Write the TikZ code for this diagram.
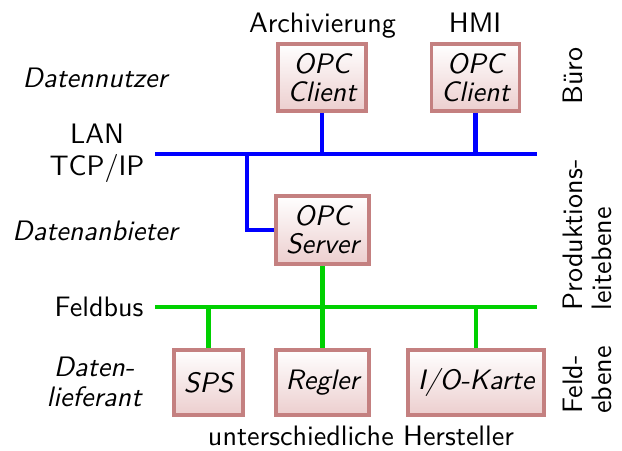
\documentclass[tikz,border=0pt]{standalone}
\usepackage{fontspec}
\setsansfont{lmsans10-regular.otf}[
  BoldFont=lmsans10-bold.otf,
  ItalicFont=lmsans10-oblique.otf,
  SlantedFont=lmsans10-oblique.otf]
\usepackage{xcolor}
\usepackage{tikz}
\usetikzlibrary{positioning,calc}

\definecolor{boxrand}{RGB}{196,128,128}
\definecolor{boxgrund}{RGB}{236,206,206}
\definecolor{feldgruen}{RGB}{0,208,0}

\begin{document}
\begin{tikzpicture}[
    x=0.02cm, y=-0.02cm,
    font=\sffamily\fontsize{16}{18}\selectfont,
    geraet/.style={draw=boxrand, line width=2.2pt, top color=white, bottom color=boxgrund,
      inner sep=0pt, align=center, font=\sffamily\slshape\fontsize{16}{16}\selectfont},
    beschr/.style={inner sep=0pt, align=center},
    ebene/.style={inner sep=0pt, align=left, rotate=90, font=\sffamily\fontsize{16}{16.5}\selectfont},
    lan/.style={blue, line width=2.3pt},
    feldbus/.style={feldgruen, line width=2.3pt},
  ]
  \useasboundingbox (0,0) rectangle (622,450);

  % Buero: OPC Clients
  \node[geraet, minimum width=1.76cm, minimum height=1.34cm] (client1) at (322,77.5) {OPC\\Client};
  \node[geraet, minimum width=1.76cm, minimum height=1.34cm] (client2) at (475.5,77.5) {OPC\\Client};
  \node[beschr, anchor=base] (archiv) at (322.5,32) {Archivierung};
  \node[beschr, anchor=base] (hmi) at (475,32) {HMI};

  % Produktionsleitebene: OPC Server
  \node[geraet, minimum width=1.86cm, minimum height=1.36cm] (server) at (322.5,230) {OPC\\Server};

  % Feldebene: Geraete
  \node[geraet, minimum width=1.38cm, minimum height=1.30cm] (sps) at (208.5,382.5) {SPS};
  \node[geraet, minimum width=1.86cm, minimum height=1.30cm] (regler) at (322.5,382.5) {Regler};
  \node[geraet, minimum width=2.72cm, minimum height=1.30cm] (iokarte) at (476,382.5) {I/O-Karte};
  \node[beschr, anchor=base] (hersteller) at (361,445) {unterschiedliche Hersteller};

  % Beschriftung links
  \node[beschr, anchor=base, font=\sffamily\slshape\fontsize{16}{18}\selectfont] (nutzer) at (95,87) {Datennutzer};
  \node[beschr] (lan) at (97,153.5) {LAN\\TCP/IP};
  \node[beschr, anchor=base, font=\sffamily\slshape\fontsize{16}{18}\selectfont] (anbieter) at (95,240) {Datenanbieter};
  \node[beschr, anchor=base] (feldbus) at (99,316) {Feldbus};
  \node[beschr, font=\sffamily\slshape\fontsize{16}{17}\selectfont] (lieferant) at (94,382) {Daten-\\lieferant};

  % Ebenen rechts
  \node[ebene] (buero) at (573,76) {Büro};
  \node[ebene] (leitebene) at (587,235) {Produktions-\\leitebene};
  \node[ebene] (feldebene) at (587,380) {Feld-\\ebene};

  % Busse
  \coordinate (lanL) at (155,154);
  \coordinate (lanR) at (537,154);
  \coordinate (feldL) at (155,307);
  \coordinate (feldR) at (537,307);
  \coordinate (knick) at (247,230);

  \draw[lan] (lanL) -- (lanR);
  \draw[lan] (client1.south) -- (client1.south |- lanL);
  \draw[lan] (client2.south) -- (client2.south |- lanL);
  \draw[lan] (server.west) -- (knick) -- (knick |- lanL);

  \draw[feldbus] (feldL) -- (feldR);
  \draw[feldbus] (server.south) -- (regler.north);
  \draw[feldbus] (sps.north) -- (sps.north |- feldL);
  \draw[feldbus] (iokarte.north) -- (iokarte.north |- feldL);
\end{tikzpicture}
\end{document}
